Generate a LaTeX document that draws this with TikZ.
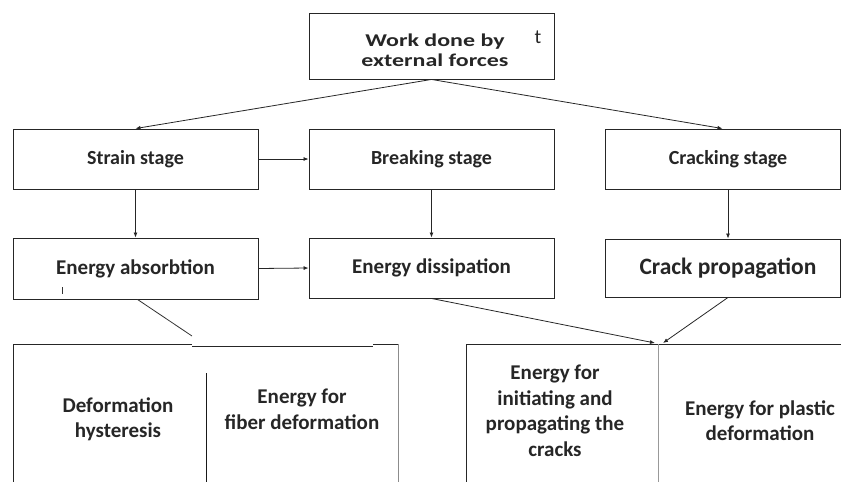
\documentclass[tikz,border=0pt]{standalone}
\usepackage{fontspec}
\setmainfont{Carlito}
\newfontfamily\widefont[FakeStretch=1.33]{Carlito}
\usetikzlibrary{arrows.meta}
\begin{document}
\begin{tikzpicture}[x=1pt,y=-1pt,
  box/.style={draw=black!85, line width=0.9pt, inner sep=0pt, text=black!85,
    font=\bfseries\fontsize{20}{24}\selectfont},
  lab/.style={font=\bfseries\fontsize{21}{25.5}\selectfont, text=black!85, align=center, inner sep=0pt},
  arr/.style={draw=black!85, line width=0.8pt, -{Latex[length=5pt,width=4pt]}},
  ln/.style={draw=black!80, line width=0.8pt}]
\useasboundingbox (0,0) rectangle (841,482);
\clip (0,0) rectangle (841,482);
% top
\node[box, minimum width=245pt, minimum height=66pt] (work) at (431.5,46) {};
\node[text=black!85, align=center, inner sep=0pt, font=\widefont\bfseries\fontsize{18}{20}\selectfont] (worktxt) at (435,50) {Work done by\\external forces};
\node[text=black!85, inner sep=0pt, font=\fontsize{20}{24}\selectfont] (tmark) at (538,37) {t};
% stage row
\node[box, minimum width=245pt, minimum height=60pt] (strain) at (135.5,159) {Strain stage};
\node[box, minimum width=245pt, minimum height=60pt] (breaking) at (431.5,159) {Breaking stage};
\node[box, minimum width=235pt, minimum height=60pt] (cracking) at (722.5,159) {\hspace*{11pt}Cracking stage};
% energy row
\node[box, minimum width=245pt, minimum height=61pt, font=\bfseries\fontsize{21}{25}\selectfont] (absorb) at (135.5,268.5) {Energy absorbtion};
\node[box, minimum width=245pt, minimum height=60pt, font=\bfseries\fontsize{21}{25}\selectfont] (dissip) at (431.5,268) {Energy dissipation};
\node[box, minimum width=235pt, minimum height=58pt, font=\bfseries\fontsize{23.5}{28}\selectfont] (crackprop) at (722.5,268) {\hspace*{11pt}Crack propagation};
\draw[ln, line width=0.7pt] (62,287) -- (62,294);
% arrows
\draw[arr] (work.south) -- (strain.north);
\draw[arr] (work.south) -- (cracking.north);
\draw[arr] (strain.east) -- (breaking.west);
\draw[arr] (strain.south) -- (absorb.north);
\draw[arr] (breaking.south) -- (dissip.north);
\draw[arr] ([xshift=5.5pt]cracking.south) -- ([xshift=5.5pt]crackprop.north);
\draw[arr] (absorb.east) -- (dissip.west);
% links to bottom
\coordinate (leftend) at (192,336);
\coordinate (tipA) at (655,343);
\coordinate (tipB) at (663,343);
\draw[ln] ([xshift=2pt]absorb.south) -- (leftend);
\draw[arr] (dissip.south) -- (tipA);
\draw[arr] ([xshift=5.5pt]crackprop.south) -- (tipB);
% bottom left block
\draw[ln, draw=black!85] (13,490) -- (13,344) -- (192,344);
\draw[ln, draw=black!85] (192,346) -- (373,346);
\draw[ln, draw=black!85] (373,344) -- (398,344);
\draw[ln, draw=black!45] (398,344) -- (398,490);
\draw[ln, draw=black!90] (206,373) -- (206,490);
\node[lab] (deform) at (118,419.5) {Deformation\\hysteresis};
\node[lab] (fiber) at (302,409.5) {Energy for\\fiber deformation};
% bottom right block
\draw[ln, draw=black!85] (466,490) -- (466,344) -- (845,344);
\draw[ln, draw=black!40] (658,344) -- (658,490);
\node[lab] (initiate) at (555,411) {Energy for\\initiating and\\propagating the\\cracks};
\node[lab] (plastic) at (760,420.5) {Energy for plastic\\deformation};
\end{tikzpicture}
\end{document}
